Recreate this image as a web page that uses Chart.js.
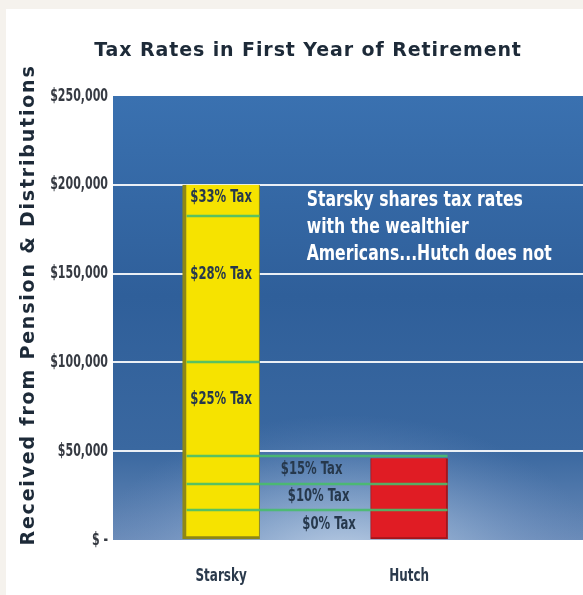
<!DOCTYPE html>
<html>
<head>
<meta charset="utf-8">
<script src="https://cdn.jsdelivr.net/npm/chart.js@4.4.1/dist/chart.umd.min.js"></script>
<style>
html, body { margin: 0; padding: 0; background: #f5f2ed; }
#wrap { width: 583px; height: 595px; }
</style>
</head>
<body>
<div id="wrap"><canvas id="taxChart" width="583" height="595"></canvas></div>
<script>
// Chart data
const people = ['Starsky', 'Hutch'];
const income = [200000, 46000];
const bracketTops = [17000, 31500, 47500, 100000, 182500];
const bracketLabels = ['$0% Tax', '$10% Tax', '$15% Tax', '$25% Tax', '$28% Tax', '$33% Tax'];
const yTicks = [0, 50000, 100000, 150000, 200000, 250000];
const noteLines = ['Starsky shares tax rates', 'with the wealthier', 'Americans...Hutch does not'];

const narrow = '"DejaVu Sans Condensed", "DejaVu Sans", sans-serif';
const heavy = '"DejaVu Sans", sans-serif';
const sharedBrackets = 3; // brackets both men fall into
const barOffset = 0.575;  // where each bar sits inside its x unit

function money(v) {
    return v === 0 ? '$ -' : '$' + v.toLocaleString('en-US');
}

// The original uses a very condensed face, so squeeze the text sideways
function squeeze(ctx, text, x, y, align, sx) {
    ctx.save();
    ctx.translate(x, y);
    ctx.scale(sx, 1);
    ctx.textAlign = align;
    ctx.fillText(text, 0, 0);
    ctx.restore();
}

// Paint page, white panel and the blue plot background
const backgroundPlugin = {
    id: 'background',
    beforeDraw(chart) {
        const ctx = chart.ctx;
        const a = chart.chartArea;
        ctx.save();
        ctx.fillStyle = '#f5f2ed';
        ctx.fillRect(0, 0, chart.width, chart.height);
        ctx.fillStyle = '#ffffff';
        ctx.fillRect(6, 9, chart.width - 6, chart.height - 9);

        let g = ctx.createLinearGradient(0, a.top, 0, a.bottom);
        g.addColorStop(0, '#3a71b0');
        g.addColorStop(0.45, '#2f5f9a');
        g.addColorStop(0.8, '#3a68a0');
        g.addColorStop(1, '#6a8bb8');
        ctx.fillStyle = g;
        ctx.fillRect(a.left, a.top, a.right - a.left, a.bottom - a.top);

        // soft wide glow near the bottom middle
        ctx.beginPath();
        ctx.rect(a.left, a.top, a.right - a.left, a.bottom - a.top);
        ctx.clip();
        ctx.translate(345, a.bottom + 25);
        ctx.scale(1.7, 1);
        let r = ctx.createRadialGradient(0, 0, 5, 0, 0, 150);
        r.addColorStop(0, 'rgba(205,220,238,0.85)');
        r.addColorStop(0.5, 'rgba(170,195,225,0.4)');
        r.addColorStop(1, 'rgba(120,150,200,0)');
        ctx.fillStyle = r;
        ctx.fillRect(-200, -200, 400, 400);
        ctx.restore();
    }
};

// Bracket lines, all the text
const overlayPlugin = {
    id: 'overlay',
    afterDatasetsDraw(chart) {
        const ctx = chart.ctx;
        const y = chart.scales.y;
        const x = chart.scales.x;
        const bars = chart.getDatasetMeta(0).data.map(b => b.getProps(['x', 'width'], true));
        const s = { left: bars[0].x - bars[0].width / 2, right: bars[0].x + bars[0].width / 2 };
        const h = { left: bars[1].x - bars[1].width / 2, right: bars[1].x + bars[1].width / 2 };

        ctx.save();
        ctx.strokeStyle = 'rgba(72,188,108,0.9)';
        ctx.lineWidth = 2.5;
        bracketTops.forEach((v, i) => {
            const py = Math.round(y.getPixelForValue(v));
            ctx.beginPath();
            ctx.moveTo(s.left + 4, py);
            ctx.lineTo(i < sharedBrackets ? h.right : s.right, py);
            ctx.stroke();
        });

        ctx.textBaseline = 'middle';

        // y tick labels
        ctx.fillStyle = '#363a42';
        ctx.font = 'bold 18px ' + narrow;
        y.ticks.forEach(t => squeeze(ctx, money(t.value), y.right - 5, y.getPixelForValue(t.value), 'right', 0.68));

        // x labels
        ctx.fillStyle = '#2b3a4c';
        people.forEach((p, i) => squeeze(ctx, p, bars[i].x, 576, 'center', 0.74));

        // bracket labels
        ctx.fillStyle = '#26384c';
        ctx.font = 'bold 17px ' + narrow;
        const gapMid = (s.right + h.left) / 2;
        const stagger = [14, 3.5, -3.5];
        bracketLabels.forEach((text, i) => {
            const lo = i === 0 ? 0 : bracketTops[i - 1];
            const hi = i < bracketTops.length ? bracketTops[i] : income[0];
            const frac = i < sharedBrackets ? 0.5 : 0.6;
            const py = y.getPixelForValue(lo + (hi - lo) * frac);
            const px = i < sharedBrackets ? gapMid + stagger[i] : bars[0].x;
            squeeze(ctx, text, px, py, 'center', 0.76);
        });

        // note
        ctx.fillStyle = '#ffffff';
        ctx.font = 'bold 21px ' + narrow;
        const nx = x.getPixelForValue(1.03);
        const ny = y.getPixelForValue(191000);
        noteLines.forEach((line, i) => squeeze(ctx, line, nx, ny + i * 27, 'left', 0.83));

        // title
        ctx.fillStyle = '#1d2a38';
        ctx.font = 'bold 19px ' + heavy;
        ctx.letterSpacing = '0.9px';
        ctx.textAlign = 'center';
        ctx.fillText('Tax Rates in First Year of Retirement', 308, 51);

        // y axis title
        ctx.translate(29, 305);
        ctx.rotate(-Math.PI / 2);
        ctx.letterSpacing = '1.8px';
        ctx.fillText('Received from Pension & Distributions', 0, 0);
        ctx.restore();
    }
};

new Chart(document.getElementById('taxChart'), {
    type: 'bar',
    data: {
        datasets: [{
            data: people.map((p, i) => ({ x: i + barOffset, y: income[i] })),
            backgroundColor: ['#f6e300', '#e01c24'],
            borderColor: ['#8e8716', '#a3151b'],
            borderWidth: [{ left: 4, bottom: 3, right: 1, top: 0 }, { left: 1, bottom: 2, right: 2, top: 0 }],
            borderSkipped: false,
            barThickness: 77
        }]
    },
    options: {
        responsive: false,
        animation: false,
        layout: { padding: { top: 96, right: 0, bottom: 0, left: 0 } },
        scales: {
            x: {
                type: 'linear',
                offset: false,
                min: 0,
                max: 2.5,
                grid: { display: false },
                border: { display: false },
                afterFit: (scale) => { scale.height = 55; },
                ticks: { display: false }
            },
            y: {
                min: 0,
                max: 250000,
                border: { display: false },
                afterBuildTicks: (scale) => { scale.ticks = yTicks.map(v => ({ value: v })); },
                afterFit: (scale) => { scale.width = 113; },
                grid: {
                    drawTicks: false,
                    lineWidth: 2,
                    color: (c) => (c.tick && c.tick.value > 0 && c.tick.value < 250000) ? 'rgba(255,255,255,0.9)' : 'rgba(0,0,0,0)'
                },
                ticks: { display: false }
            }
        },
        plugins: {
            legend: { display: false },
            tooltip: { enabled: false }
        }
    },
    plugins: [backgroundPlugin, overlayPlugin]
});
</script>
</body>
</html>
